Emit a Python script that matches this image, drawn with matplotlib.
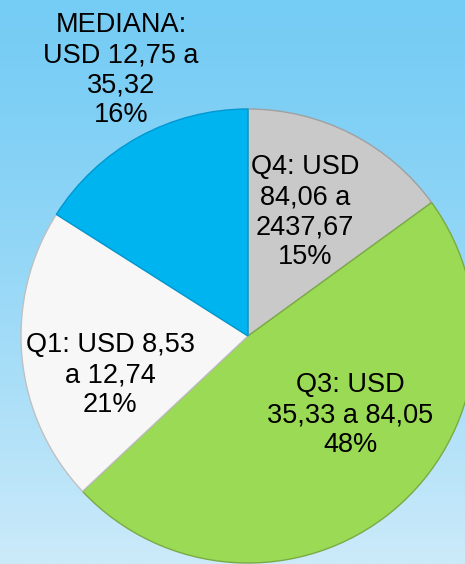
import numpy as np
import matplotlib.pyplot as plt

plt.rcParams['font.family'] = ['Liberation Sans', 'DejaVu Sans']

# datos del grafico
etiquetas = ['Q4: USD\n84,06 a\n2437,67', 'Q3: USD\n35,33 a 84,05', 'Q1: USD 8,53\na 12,74', 'MEDIANA:\nUSD 12,75 a\n35,32']
porcentajes = [15, 48, 21, 16]
colores = ['#C9C9C9', '#9ADA55', '#F7F7F7', '#00B4F0']
bordes = ['#A0A0A0', '#7BAA45', '#C0C0C0', '#0098D0']

W, H = 465, 564
fig = plt.figure(figsize=(W / 100, H / 100), dpi=100)
ax = fig.add_axes([0, 0, 1, 1])

# fondo tipo cielo
grad = np.linspace(0, 1, 256).reshape(-1, 1)
top = np.array([0.46, 0.80, 0.96])
bot = np.array([0.80, 0.92, 0.98])
img = top + (bot - top) * grad[:, :, None] ** 1.3
ax.imshow(img, extent=[0, W, 0, H], origin='upper', aspect='auto', zorder=0)

cx, cy, r = 248, H - 336, 227
wedges, _ = ax.pie(porcentajes, colors=colores, startangle=90, counterclock=False,
                   center=(cx, cy), radius=r, frame=True,
                   wedgeprops=dict(linewidth=1.0))
for w, b in zip(wedges, bordes):
    w.set_edgecolor(b)
    w.set_zorder(2)
ax.set_xlim(0, W)
ax.set_ylim(0, H)
ax.set_aspect('equal')
ax.axis('off')

# posiciones de las etiquetas (pixeles)
pos = [(305, H - 212), (350, H - 415), (110, H - 375), (121, H - 70)]
for lab, p, (x, y) in zip(etiquetas, porcentajes, pos):
    ax.text(x, y, f'{lab}\n{p}%', ha='center', va='center', fontsize=19.5,
            color='black', linespacing=1.2, zorder=3)

fig.savefig('out.png', dpi=100)
